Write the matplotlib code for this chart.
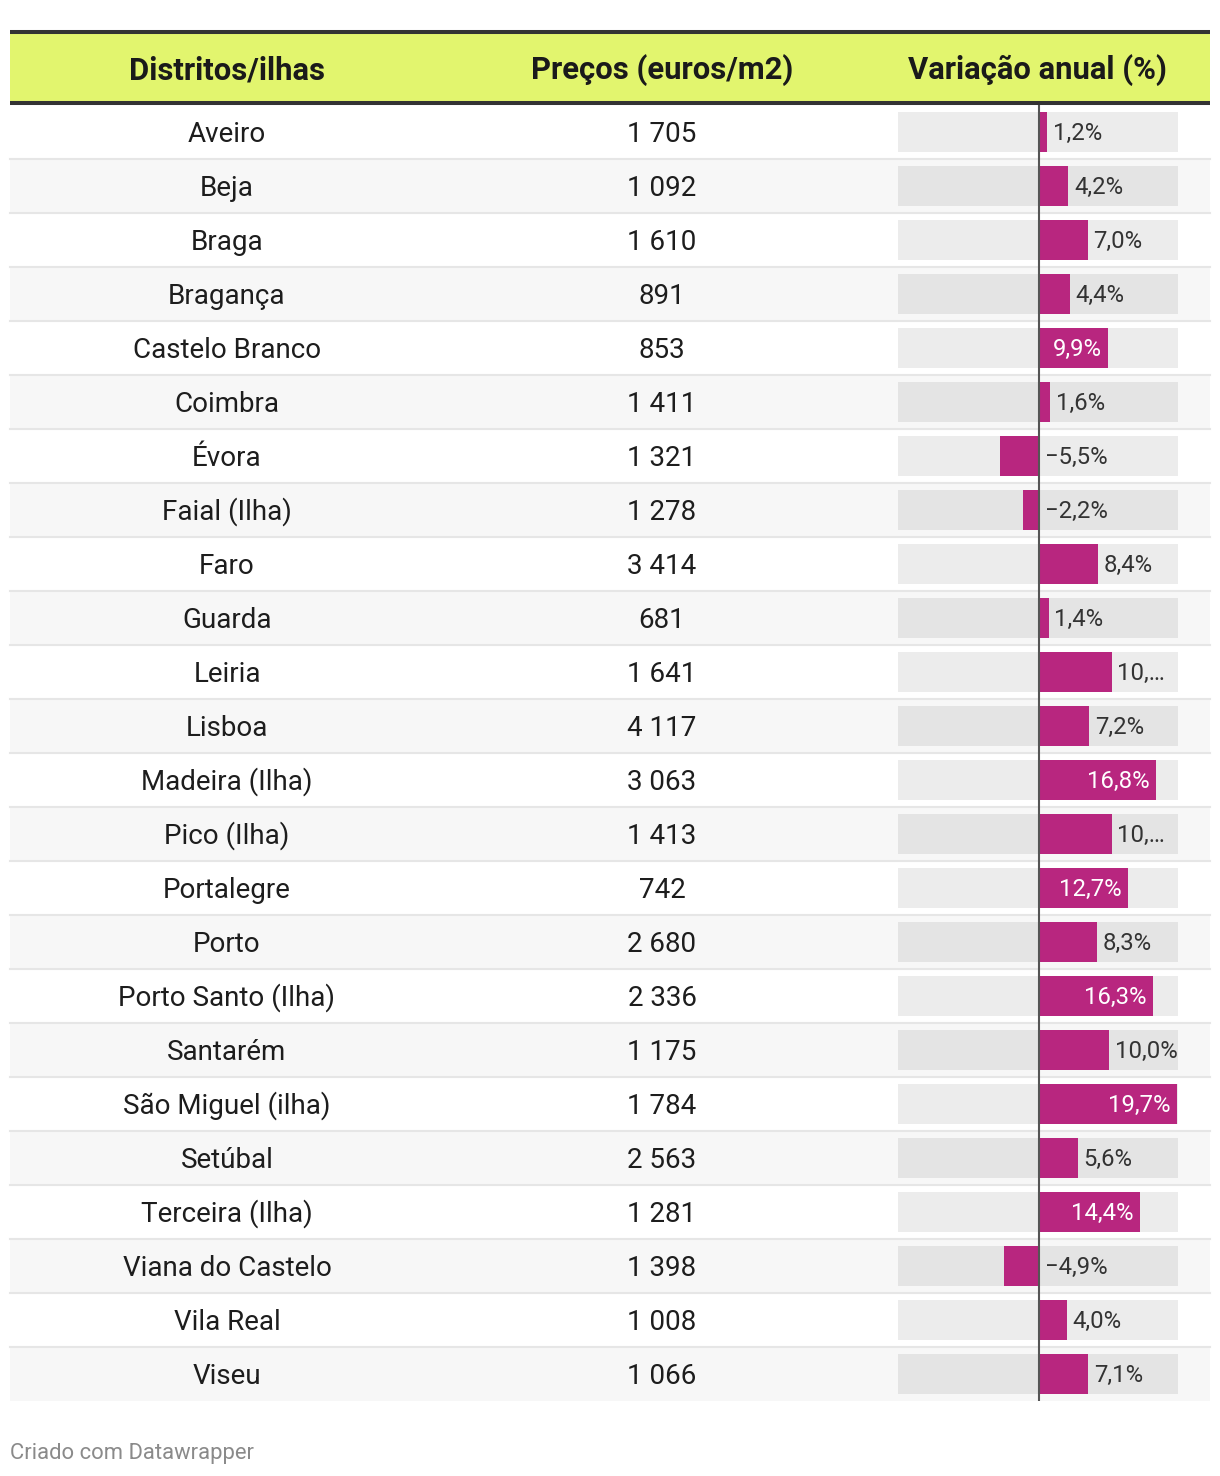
import matplotlib
matplotlib.use("Agg")
import matplotlib.pyplot as plt
from matplotlib.patches import Rectangle

plt.rcParams['font.family'] = ['Roboto', 'DejaVu Sans']

districts = ["Aveiro", "Beja", "Braga", "Bragança", "Castelo Branco", "Coimbra", "Évora",
             "Faial (Ilha)", "Faro", "Guarda", "Leiria", "Lisboa", "Madeira (Ilha)", "Pico (Ilha)",
             "Portalegre", "Porto", "Porto Santo (Ilha)", "Santarém", "São Miguel (ilha)",
             "Setúbal", "Terceira (Ilha)", "Viana do Castelo", "Vila Real", "Viseu"]
prices = ["1 705", "1 092", "1 610", "891", "853", "1 411", "1 321", "1 278", "3 414", "681",
          "1 641", "4 117", "3 063", "1 413", "742", "2 680", "2 336", "1 175", "1 784", "2 563",
          "1 281", "1 398", "1 008", "1 066"]
variation = [1.2, 4.2, 7.0, 4.4, 9.9, 1.6, -5.5, -2.2, 8.4, 1.4, 10.4, 7.2, 16.8, 10.4, 12.7,
             8.3, 16.3, 10.0, 19.7, 5.6, 14.4, -4.9, 4.0, 7.1]
variation_labels = ["1,2%", "4,2%", "7,0%", "4,4%", "9,9%", "1,6%", "−5,5%", "−2,2%", "8,4%",
                    "1,4%", "10,…", "7,2%", "16,8%", "10,…", "12,7%", "8,3%", "16,3%", "10,0%",
                    "19,7%", "5,6%", "14,4%", "−4,9%", "4,0%", "7,1%"]
inside_label = {"Castelo Branco", "Madeira (Ilha)", "Portalegre", "Porto Santo (Ilha)",
                "São Miguel (ilha)", "Terceira (Ilha)"}
headers = ["Distritos/ilhas", "Preços (euros/m2)", "Variação anual (%)"]
footer = "Criado com Datawrapper"

W, H = 1220, 1476
fig = plt.figure(figsize=(W / 100, H / 100), dpi=100)
ax = fig.add_axes([0, 0, 1, 1])
ax.set_xlim(0, W)
ax.set_ylim(H, 0)
ax.axis('off')

TL, TR = 10, 1210
top_body = 105
row_h = 54
n = len(districts)

# header
ax.add_patch(Rectangle((TL, 33), TR - TL, 70, color='#e2f56e', lw=0, zorder=1))
ax.plot([TL, TR], [32, 32], color='#333333', lw=2.9, solid_capstyle='butt', zorder=2)
ax.plot([TL, TR], [103, 103], color='#333333', lw=2.9, solid_capstyle='butt', zorder=2)
col_x = [227, 662, 1037]
for x, h in zip(col_x, headers):
    ax.text(x, 70, h, ha='center', va='center', fontsize=22.3, fontweight='bold', color='#1a1a1a', zorder=3)

# rows
for i in range(n):
    y0 = top_body + row_h * i
    ax.add_patch(Rectangle((TL, y0), TR - TL, row_h, color='white' if i % 2 == 0 else '#f7f7f7',
                           lw=0, zorder=1))
    if i > 0:
        ax.plot([TL, TR], [y0, y0], color='#e6e6e6', lw=1.5, zorder=2)
    yc = y0 + row_h / 2 + 2
    ax.text(col_x[0], yc, districts[i], ha='center', va='center', fontsize=20, color='#1d1d1d', zorder=3)
    ax.text(col_x[1], yc, prices[i], ha='center', va='center', fontsize=20, color='#1d1d1d', zorder=3)

ax.text(TL, 1453, footer, ha='left', va='center', fontsize=15.8, color='#8a8a8a')

# bar column
bx0, bx1 = 898, 1178
bax = fig.add_axes([bx0 / W, 1 - (top_body + row_h * n) / H, (bx1 - bx0) / W, row_h * n / H])
bax.patch.set_alpha(0)
bax.axis('off')
xmin, xmax = -20.1, 19.9
bax.set_xlim(xmin, xmax)
bax.set_ylim(n - 0.5, -0.5)
rows = list(range(n))
bh = 40 / 54
bax.barh(rows, [xmax - xmin] * n, left=xmin, height=bh, color='black', alpha=0.075, lw=0)
bax.barh(rows, variation, height=bh, color='#b8267f', lw=0, zorder=2)
bax.axvline(0, color='#555555', lw=1.5, zorder=3)

for i, (v, lab, name) in enumerate(zip(variation, variation_labels, districts)):
    if name in inside_label:
        bax.annotate(lab, (v, i), xytext=(-4.5, -1.2), textcoords='offset points', ha='right', va='center',
                     fontsize=17.2, color='white', zorder=4)
    else:
        bax.annotate(lab, (max(v, 0), i), xytext=(4.2, -1.2), textcoords='offset points', ha='left',
                     va='center', fontsize=17.2, color='#333333', zorder=4)

fig.savefig('out.png', dpi=100, facecolor='white')
